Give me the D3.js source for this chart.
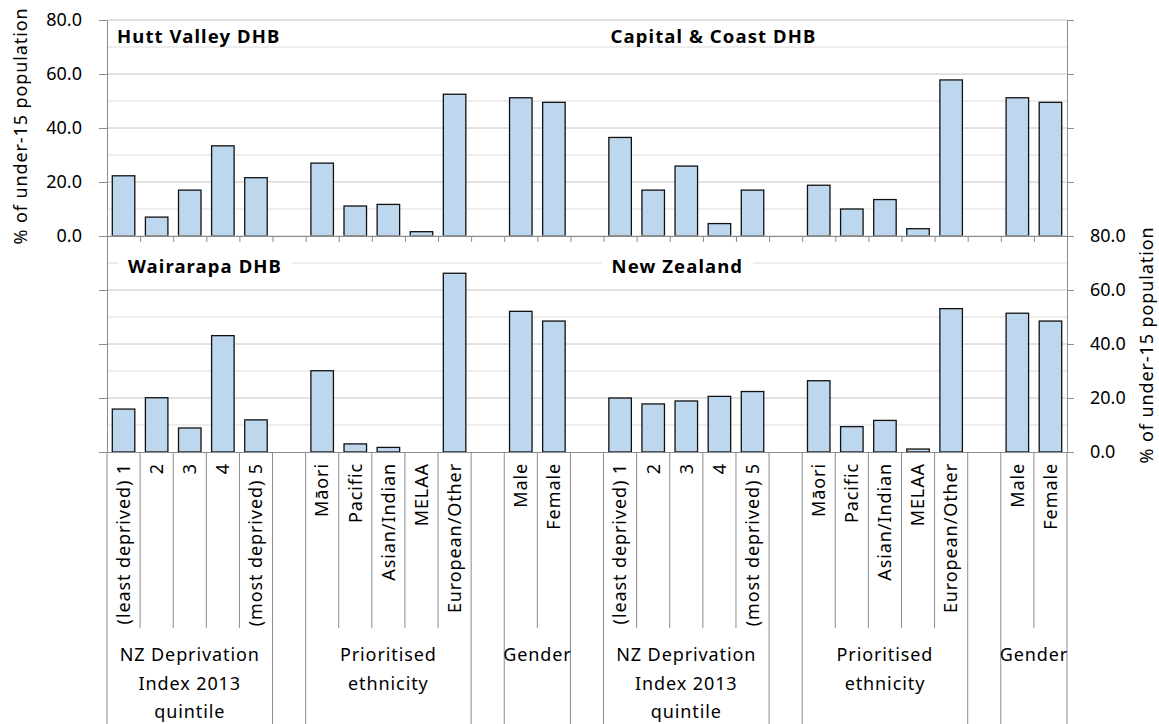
<!DOCTYPE html>
<html><head><meta charset="utf-8">
<script src="https://cdn.jsdelivr.net/npm/d3@7"></script>
<style>
body{margin:0;background:#fff;}
svg{display:block;font-family:"Noto Sans",sans-serif;}
</style></head><body>
<svg id="chart" width="1159" height="724"></svg>
<script>
// ---- data ----
const subCategories = ["(least deprived) 1","2","3","4","(most deprived) 5","",
  "Māori","Pacific","Asian/Indian","MELAA","European/Other","","Male","Female"];
const groupNames = [["NZ Deprivation","Index 2013","quintile"],[],["Prioritised","ethnicity"],[],["Gender"]];
const groupSizes = [5,1,5,1,2];
const huttValley   = [22.3, 7.0,17.0,33.4,21.6,null,27.0,11.1,11.7,1.6,52.5,null,51.2,49.5];
const capitalCoast = [36.5,17.0,25.9, 4.6,17.0,null,18.8,10.0,13.5,2.7,57.8,null,51.2,49.5];
const wairarapa    = [15.9,20.1, 8.9,43.1,11.9,null,30.1, 3.0, 1.7,0.0,66.2,null,52.1,48.5];
const newZealand   = [20.0,17.8,18.9,20.6,22.4,null,26.4, 9.4,11.7,1.1,53.1,null,51.4,48.5];
const yTicks = [0,20,40,60,80];
const gridValues = [10,20,30,40,50,60,70,80];
const panelTitles = ["Hutt Valley DHB","Capital & Coast DHB","Wairarapa DHB","New Zealand"];
const axisTitle = "% of under-15 population";

// ---- layout ----
const svg = d3.select("#chart");
const X0 = 107, X1 = 1067;
const keys = [...subCategories.map((c,i)=>"L"+i), "gap", ...subCategories.map((c,i)=>"R"+i)];
const nSlots = keys.length;
const x = d3.scaleBand().domain(keys).range([X0,X1]).paddingInner(0.32).paddingOuter(0.16);
const xb = d3.scaleLinear().domain([0,nSlots]).range([X0,X1]);
const yTop = d3.scaleLinear().domain([0,80]).range([236,20]);
const yBot = d3.scaleLinear().domain([0,80]).range([452,236]);

const panels = [
  {y:yTop, left:huttValley, right:capitalCoast, titles:[panelTitles[0],panelTitles[1]], bg:false, tY:43},
  {y:yBot, left:wairarapa, right:newZealand, titles:[panelTitles[2],panelTitles[3]], bg:true, tY:273}
];

const axisColor = "#8c8c8c";
const LS = "0.9px";

panels.forEach(p => {
  const g = svg.append("g");
  g.selectAll("line.grid").data(gridValues).join("line")
    .attr("x1",X0).attr("x2",X1)
    .attr("y1",d=>p.y(d)).attr("y2",d=>p.y(d))
    .attr("stroke", d=> d%20===0 ? "#c4c4c4" : "#dcdcdc").attr("stroke-width",1);
  const tx = [xb(0)+ (p.bg?21:10), xb(15)+ (p.bg?8:7)];
  p.titles.forEach((t,i)=>{
    const tg = g.append("g");
    const txt = tg.append("text").attr("x",tx[i]).attr("y",p.tY)
      .attr("font-size",18.5).attr("font-weight","bold").attr("letter-spacing","1.1px")
      .attr("fill","#000").text(t);
    if (p.bg) {
      const bb = txt.node().getBBox();
      tg.insert("rect","text").attr("x",bb.x-10).attr("y",bb.y).attr("width",bb.width+20)
        .attr("height",bb.height).attr("fill","#fff");
    }
  });
  const data = keys.map((k,i)=>{
    let v = null;
    if (k[0]==="L") v = p.left[+k.slice(1)];
    else if (k[0]==="R") v = p.right[+k.slice(1)];
    return {k, v};
  }).filter(d=>d.v!==null && d.v>0);
  g.selectAll("rect.bar").data(data).join("rect")
    .attr("x",d=>x(d.k)).attr("width",x.bandwidth())
    .attr("y",d=>p.y(d.v)).attr("height",d=>p.y(0)-p.y(d.v))
    .attr("fill","#bdd7ee").attr("stroke","#111").attr("stroke-width",1.3);
});

function styleAxis(sel){
  sel.selectAll("path.domain").attr("stroke",axisColor);
  sel.selectAll(".tick line").attr("stroke",axisColor);
  sel.selectAll(".tick text").attr("fill","#000").attr("font-size",18).attr("font-family","Noto Sans");
}

svg.append("g").attr("transform","translate(0,236)")
  .call(d3.axisBottom(xb).tickValues(d3.range(0,nSlots+1)).tickFormat("").tickSize(6).tickSizeOuter(0))
  .call(styleAxis);
svg.append("g").attr("transform","translate(0,452)")
  .call(d3.axisBottom(xb).tickValues([]).tickSizeOuter(0))
  .call(styleAxis);

svg.append("g").attr("transform",`translate(${X0},0)`)
  .call(d3.axisLeft(yTop).tickValues(yTicks).tickFormat(d3.format(".1f")).tickSize(8).tickPadding(17).tickSizeOuter(0))
  .call(styleAxis);
svg.append("g").attr("transform",`translate(${X0},0)`)
  .call(d3.axisLeft(yBot).tickValues(yTicks).tickFormat("").tickSize(8).tickSizeOuter(0))
  .call(styleAxis);
svg.append("g").attr("transform",`translate(${X1},0)`)
  .call(d3.axisRight(yTop).tickValues(yTicks).tickFormat("").tickSize(7).tickSizeOuter(0))
  .call(styleAxis);
svg.append("g").attr("transform",`translate(${X1},0)`)
  .call(d3.axisRight(yBot).tickValues(yTicks).tickFormat(d3.format(".1f")).tickSize(7).tickPadding(16).tickSizeOuter(0))
  .call(styleAxis);

const catG = svg.append("g");
const labelY = 463;
keys.forEach((k,i)=>{
  if (k==="gap") return;
  const label = subCategories[+k.slice(1)];
  if (!label) return;
  catG.append("text")
    .attr("transform",`translate(${x(k)+x.bandwidth()/2},${labelY}) rotate(-90)`)
    .attr("text-anchor","end").attr("dy","0.35em").attr("letter-spacing",LS)
    .attr("font-size",18).attr("fill","#000").text(label);
});
[0,15].forEach(off=>{
  let pos = 0;
  const longB = [0], shortB = [];
  groupSizes.forEach(s=>{
    for (let j=1;j<s;j++) shortB.push(pos+j);
    pos += s; longB.push(pos);
  });
  longB.forEach(b=>catG.append("line").attr("x1",xb(b+off)).attr("x2",xb(b+off))
    .attr("y1",452).attr("y2",724).attr("stroke",axisColor));
  shortB.forEach(b=>catG.append("line").attr("x1",xb(b+off)).attr("x2",xb(b+off))
    .attr("y1",452).attr("y2",628).attr("stroke",axisColor));
  pos = 0;
  groupSizes.forEach((s,gi)=>{
    const cx = (xb(pos+off)+xb(pos+s+off))/2;
    groupNames[gi].forEach((line,li)=>{
      catG.append("text").attr("x",cx).attr("y",661+li*28.5).attr("letter-spacing",LS)
        .attr("text-anchor","middle").attr("font-size",18).attr("fill","#000").text(line);
    });
    pos += s;
  });
});

svg.append("text").attr("transform","translate(27,126) rotate(-90)").attr("letter-spacing",LS)
  .attr("text-anchor","middle").attr("font-size",18).attr("fill","#000").text(axisTitle);
svg.append("text").attr("transform","translate(1153,345) rotate(-90)").attr("letter-spacing",LS)
  .attr("text-anchor","middle").attr("font-size",18).attr("fill","#000").text(axisTitle);
</script>
</body></html>
